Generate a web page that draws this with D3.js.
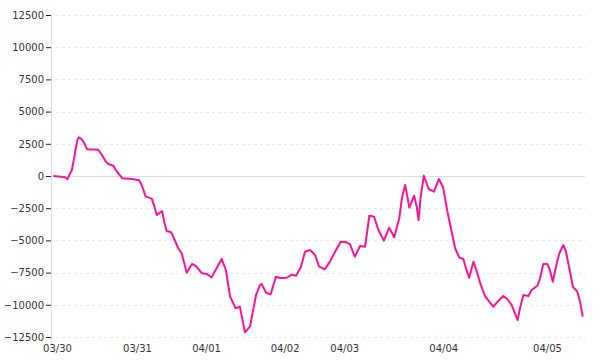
<!DOCTYPE html>
<html><head><meta charset="utf-8">
<script src="https://cdn.jsdelivr.net/npm/d3@7"></script>
<style>
html,body{margin:0;padding:0;background:#fff;}
svg{display:block;}
text{font-family:"DejaVu Sans",Verdana,sans-serif;}
</style></head>
<body><svg id="c" width="600" height="360"></svg>
<script>
// sample index (trading samples) and value
const sampleIdx = [0,2.9,4.4,5.4,6.3,7.0,7.8,8.5,9.1,9.6,10.7,11.7,12.8,17.0,18.3,19.9,20.8,22.7,23.6,24.6,26.1,29.8,32.4,33.4,34.9,37.2,37.8,39.1,39.9,41.1,41.9,42.8,44.5,45.3,47.2,
48.5,50.4,52.4,53.9,56.1,58.0,59.8,63.6,65.2,66.8,68.9,70.5,72.4,74.3,76.6,78.1,78.7,80.4,82.1,84.1,85.6,88.2,90.1,91.7,93.5,95.1,97.0,98.9,100.4,
102.6,104.5,106.8,108.6,110.8,112.1,113.9,115.9,117.8,119.4,121.2,122.8,124.9,126.9,128.8,130.7,131.7,132.9,133.5,134.5,136.3,137.3,138.0,138.8,140.0,141.8,143.8,145.7,147.3,148.9,150.5,151.8,153.4,
154.9,155.9,157.1,158.7,160.0,161.5,163.1,164.7,166.2,168.1,170.0,171.5,173.2,174.4,175.4,176.3,177.6,179.5,180.7,182.9,183.9,185.1,186.6,187.6,188.7,190.2,191.2,192.7,193.7,195.2,196.3,198.0,199.0,200.0];
const values = [0,-50,-100,-250,200,450,1320,2150,2800,3000,2870,2540,2070,2040,1650,1110,930,800,470,210,-180,-230,-330,-700,-1600,-1760,-2120,-3030,-2900,-2720,-3550,-4270,-4370,-4710,-5610,
-6000,-7510,-6830,-6990,-7550,-7610,-7870,-6440,-7300,-9370,-10270,-10150,-12140,-11700,-9240,-8460,-8390,-9060,-9190,-7820,-7920,-7900,-7660,-7740,-7090,-5880,-5750,-6130,-7040,
-7240,-6650,-5750,-5100,-5150,-5300,-6270,-5440,-5490,-3080,-3160,-4190,-5020,-4010,-4760,-3280,-1730,-700,-1340,-2460,-1530,-2380,-3420,-1610,20,-1010,-1220,-230,-910,-2770,-4330,-5610,-6340,
-6440,-7170,-7900,-6650,-7430,-8460,-9320,-9760,-10150,-9700,-9320,-9550,-10020,-10660,-11180,-10270,-9240,-9320,-8850,-8520,-7940,-6830,-6830,-7300,-8210,-6780,-6000,-5360,-5880,-7430,-8600,-8980,-9760,-10920];
const dayLabels = ["03/30","03/31","04/01","04/02","04/03","04/04","04/05"];
const dayIdx = [1.6,31.8,57.9,87.6,110.1,147.5,186.7];
const yTicks = [12500,10000,7500,5000,2500,0,-2500,-5000,-7500,-10000,-12500];

const svg = d3.select("#c");
const x = d3.scaleLinear().domain([0,200]).range([53.3,582.7]);
const y = d3.scaleLinear().domain([-12500,12500]).range([337,15]);

// grid
svg.append("g").selectAll("line").data(yTicks).join("line")
  .attr("x1", d => d===0 ? 51 : 56).attr("x2", 585)
  .attr("y1", d => Math.round(y(d))+0.5).attr("y2", d => Math.round(y(d))+0.5)
  .attr("stroke", d => d===0 ? "#dddddd" : "#e8e8e8")
  .attr("stroke-dasharray", d => d===0 ? null : "3,3");

// y axis line
svg.append("line").attr("x1",51.5).attr("x2",51.5).attr("y1",14).attr("y2",344)
  .attr("stroke","#dddddd");

// y axis ticks and labels
const yAxis = d3.axisLeft(y).tickValues(yTicks).tickSize(5).tickPadding(2).tickFormat(d3.format("d"));
const ya = svg.append("g").attr("transform","translate(51,0)").call(yAxis);
ya.select(".domain").remove();
ya.selectAll(".tick line").attr("stroke","#222");
ya.selectAll(".tick text").attr("fill","#333").style("font-size","10px").style("font-family","DejaVu Sans");

// x labels
svg.append("g").selectAll("text").data(dayLabels).join("text")
  .attr("x",(d,i)=>x(dayIdx[i])).attr("y",352)
  .attr("text-anchor","middle").attr("fill","#333").style("font-size","10px")
  .text(d=>d);

// line
const line = d3.line().x((d,i)=>x(sampleIdx[i])).y(d=>y(d));
svg.append("path").datum(values).attr("d",line)
  .attr("fill","none").attr("stroke","#ff1493").attr("stroke-width",2)
  .attr("stroke-linejoin","round");
</script></body></html>
